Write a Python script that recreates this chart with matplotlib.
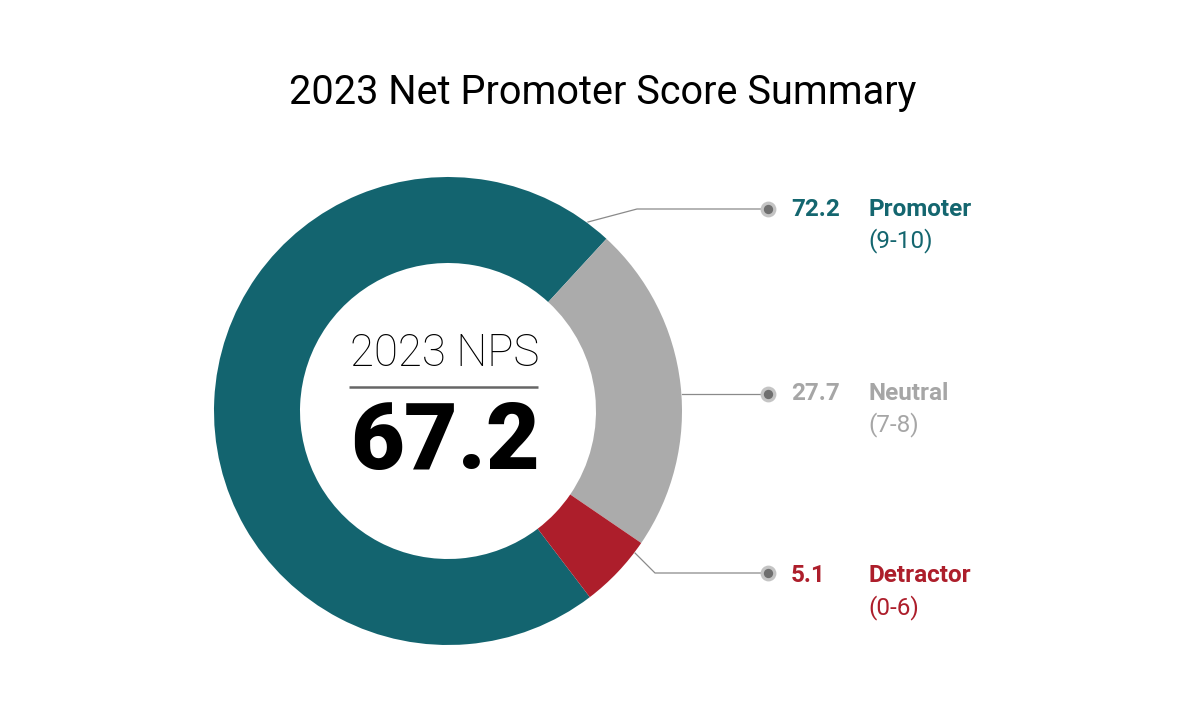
import matplotlib
matplotlib.use("Agg")
import matplotlib.pyplot as plt

# Data
categories = ["Promoter", "Neutral", "Detractor"]
ranges = ["(9-10)", "(7-8)", "(0-6)"]
# share of the ring each slice takes (the ring itself shows 72.2 / 22.7 / 5.1)
slice_values = [72.2, 22.7, 5.1]
# numbers printed next to the labels
value_labels = ["72.2", "27.7", "5.1"]
nps_score = "67.2"

ring_colors = ["#13646f", "#ababab", "#ad1e2b"]
text_colors = ["#14666f", "#a6a6a6", "#ad1e2b"]

plt.rcParams["font.family"] = ["Roboto", "DejaVu Sans"]

fig = plt.figure(figsize=(12, 7.2), dpi=100)
ax = fig.add_axes([0, 0, 1, 1])
ax.axis("off")


def py(y):
    # image pixel row -> data y
    return 720 - y


cx, cy = 448, py(411)
r_out, r_in = 234, 148

ax.pie(slice_values, colors=ring_colors, startangle=-52.7, counterclock=False,
       radius=r_out, center=(cx, cy), normalize=True,
       wedgeprops=dict(width=r_out - r_in, linewidth=0))
ax.set_xlim(0, 1200)
ax.set_ylim(0, 720)
ax.set_aspect("equal")

# title
ax.text(603, py(92), "2023 Net Promoter Score Summary", ha="center", va="center",
        fontsize=28.5, color="black")

# centre text
ax.text(445, py(354), "2023 NPS", ha="center", va="center", fontsize=31.5,
        fontweight="light", color="black")
ax.plot([349, 538], [py(386.5), py(386.5)], color="#666666", lw=1.8,
        solid_capstyle="butt")
ax.text(445, py(444), nps_score, ha="center", va="center", fontsize=67,
        fontweight="black", color="black")

# leader lines and labels
leaders = [
    [(588, 222), (637, 209), (768, 209)],
    [(682, 394), (768, 394)],
    [(635, 553), (655, 573), (768, 573)],
]
label_rows = [210, 393, 575]
sub_rows = [241, 425, 608]

for i, cat in enumerate(categories):
    xs = [p[0] for p in leaders[i]]
    ys = [py(p[1]) for p in leaders[i]]
    ax.plot(xs, ys, color="#8a8a8a", lw=0.9, zorder=3)
    dot_y = ys[-1]
    ax.scatter([768], [dot_y], s=130, color="#c4c4c4", zorder=4, linewidths=0)
    ax.scatter([768], [dot_y], s=45, color="#6f6f6f", zorder=5, linewidths=0)
    ax.text(791, py(label_rows[i]), value_labels[i], ha="left", va="center",
            fontsize=17.5, fontweight="bold", color=text_colors[i])
    ax.text(868, py(label_rows[i]), cat, ha="left", va="center",
            fontsize=17.5, fontweight="bold", color=text_colors[i])
    ax.text(868, py(sub_rows[i]), ranges[i], ha="left", va="center",
            fontsize=17.5, color=text_colors[i])

fig.savefig("out.png", dpi=100, facecolor="white")
